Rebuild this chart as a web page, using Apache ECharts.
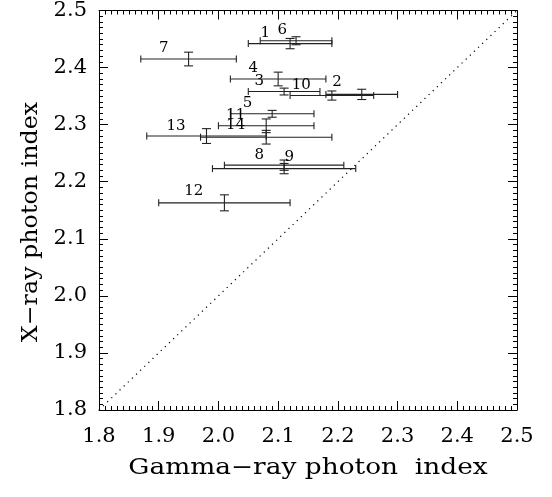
<!DOCTYPE html>
<html>
<head>
<meta charset="utf-8">
<script src="https://cdn.jsdelivr.net/npm/echarts@6.0.0/dist/echarts.min.js"></script>
<style>
  html, body { margin: 0; padding: 0; background: #fff; }
  #main { width: 552px; height: 497px; }
</style>
</head>
<body>
<div id="main"></div>
<script>
// source numbers
var names     = ['1', '2', '3', '4', '5', '6', '7', '8', '9', '10', '11', '12', '13', '14'];
var gammaIdx  = [2.12, 2.24, 2.11, 2.10, 2.09, 2.13, 1.95, 2.11, 2.11, 2.19, 2.08, 2.01, 1.98, 2.08];
var gammaErr  = [0.07, 0.06, 0.06, 0.08, 0.07, 0.06, 0.08, 0.12, 0.10, 0.07, 0.08, 0.11, 0.10, 0.11];
var xrayIdx   = [2.442, 2.353, 2.358, 2.380, 2.319, 2.447, 2.415, 2.223, 2.229, 2.351, 2.298, 2.163, 2.280, 2.278];
var xrayErr   = [0.009, 0.009, 0.006, 0.012, 0.006, 0.007, 0.012, 0.009, 0.009, 0.008, 0.012, 0.014, 0.013, 0.012];
var xTickLabels = ['1.8', '1.9', '2.0', '2.1', '2.2', '2.3', '2.4', '2.5'];
var yTickLabels = ['1.8', '1.9', '2.0', '2.1', '2.2', '2.3', '2.4', '2.5'];
var xTitle = 'Gamma\u2212ray photon  index';
var yTitle = 'X\u2212ray photon index';

// where the number sits next to its point (pixels)
var labelDx = [-20, -20, -20, -20, -20, -9, -20, -20, 10, -21, -21, -21, -21, -21];
var labelDy = [-10, -12, -10, -11, -11, -11, -11, -13, -8, -10, -11, -12, -10, -12];

var axMin = 1.8, axMax = 2.5, step = 0.1;
var font = 'DejaVu Serif';
var ink = '#222';

var data = [];
for (var i = 0; i < names.length; i++) {
    data.push([gammaIdx[i], xrayIdx[i], gammaErr[i], xrayErr[i], i]);
}

function tickName(list) {
    return function (v) {
        var k = Math.round((v - axMin) / step);
        return list[k] !== undefined ? list[k] : '';
    };
}

function renderBars(params, api) {
    var x = api.value(0), y = api.value(1), ex = api.value(2), ey = api.value(3);
    var k = api.value(4);
    var c = api.coord([x, y]);
    var l = api.coord([x - ex, y]), r = api.coord([x + ex, y]);
    var t = api.coord([x, y + ey]), b = api.coord([x, y - ey]);
    var st = { stroke: ink, lineWidth: 1.1 };
    var capH = 3.5, capW = 4.5;
    return {
        type: 'group',
        children: [
            { type: 'line', shape: { x1: l[0], y1: l[1], x2: r[0], y2: r[1] }, style: st },
            { type: 'line', shape: { x1: l[0], y1: l[1] - capH, x2: l[0], y2: l[1] + capH }, style: st },
            { type: 'line', shape: { x1: r[0], y1: r[1] - capH, x2: r[0], y2: r[1] + capH }, style: st },
            { type: 'line', shape: { x1: t[0], y1: t[1], x2: b[0], y2: b[1] }, style: st },
            { type: 'line', shape: { x1: t[0] - capW, y1: t[1], x2: t[0] + capW, y2: t[1] }, style: st },
            { type: 'line', shape: { x1: b[0] - capW, y1: b[1], x2: b[0] + capW, y2: b[1] }, style: st },
            {
                type: 'text',
                x: c[0] + labelDx[k], y: c[1] + labelDy[k],
                style: {
                    text: names[k], fill: '#000', font: '15px "' + font + '"',
                    align: 'right', verticalAlign: 'middle'
                }
            }
        ]
    };
}

function makeAxis(pos, showLabels, list) {
    return {
        type: 'value',
        position: pos,
        min: axMin, max: axMax, interval: step,
        axisLine: { show: true, onZero: false, lineStyle: { color: '#000', width: 1 } },
        axisTick: { show: true, inside: true, length: 9, lineStyle: { color: '#000' } },
        minorTick: { show: true, splitNumber: 10, length: 4, lineStyle: { color: '#000' } },
        splitLine: { show: false },
        minorSplitLine: { show: false },
        axisLabel: {
            show: showLabels, formatter: tickName(list || xTickLabels),
            fontFamily: font, fontSize: 21, color: '#000', margin: pos === 'left' ? 12 : 16
        }
    };
}

var myChart = echarts.init(document.getElementById('main'));
var option = {
    animation: false,
    backgroundColor: '#fff',
    grid: { left: 99, right: 35, top: 9, bottom: 87 },
    xAxis: [makeAxis('bottom', true, xTickLabels), makeAxis('top', false)],
    yAxis: [makeAxis('left', true, yTickLabels), makeAxis('right', false)],
    graphic: [
        {
            type: 'text', x: 308, y: 468, scaleX: 1.2,
            style: { text: xTitle, font: '22px "' + font + '"', fill: '#000', align: 'center', verticalAlign: 'middle' }
        },
        {
            type: 'text', x: 31, y: 222, rotation: Math.PI / 2, scaleX: 1.08,
            style: { text: yTitle, font: '22px "' + font + '"', fill: '#000', align: 'center', verticalAlign: 'middle' }
        }
    ],
    series: [
        {
            type: 'line',
            data: [[axMin, axMin], [axMax, axMax]],
            symbol: 'none',
            lineStyle: { color: '#000', width: 1.2, type: [1.2, 4.5] },
            silent: true
        },
        {
            type: 'custom',
            renderItem: renderBars,
            encode: { x: 0, y: 1 },
            data: data
        }
    ]
};
myChart.setOption(option);
</script>
</body>
</html>
